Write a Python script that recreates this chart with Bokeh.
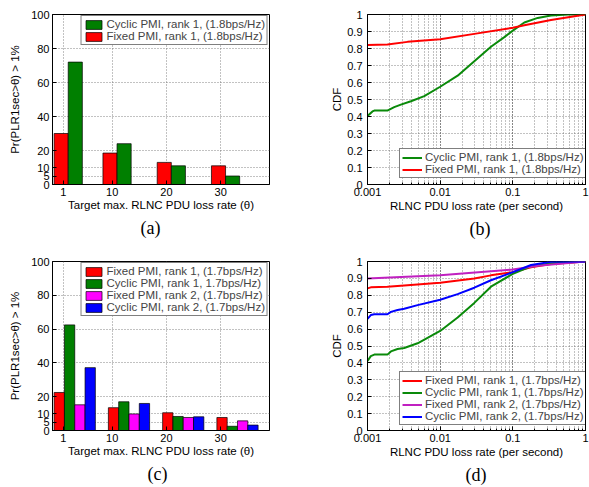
from bokeh.plotting import figure
from bokeh.layouts import column, row
from bokeh.models import (FixedTicker, CustomJSTickFormatter, Title, Range1d)
from bokeh.embed import file_html
from bokeh.resources import INLINE

# ---------------- data ----------------
theta_labels = ["1", "10", "20", "30"]
theta_ticks = [1, 10, 20, 30]
a_group_x = [1, 10, 20, 30]
c_group_x = [0, 10, 20, 30]
bar_yticks = [0, 5, 10, 20, 40, 60, 80, 100]

# (a)
a_cyclic_r1 = [72, 24, 11, 5]
a_fixed_r1 = [30, 18.5, 13, 11]

# (c)
c_fixed_r1 = [22.5, 13.5, 10.5, 7.7]
c_cyclic_r1 = [62.5, 17, 8.3, 2.5]
c_fixed_r2 = [15.2, 9.8, 7.7, 5.7]
c_cyclic_r2 = [37.2, 16, 8.1, 3.2]

cdf_ticks = [0, 0.1, 0.2, 0.3, 0.4, 0.5, 0.6, 0.7, 0.8, 0.9, 1.0]

# (b)
b_cyc_x = [0.001, 0.00117, 0.00124, 0.00188, 0.00233, 0.00288, 0.00396, 0.00604, 0.01,
           0.0174, 0.0295, 0.05, 0.0764, 0.1, 0.144, 0.22, 0.335, 0.57, 1.0]
b_cyc_y = [0.403, 0.43, 0.435, 0.435, 0.455, 0.47, 0.49, 0.52, 0.575,
           0.64, 0.725, 0.81, 0.867, 0.905, 0.953, 0.98, 0.994, 1.0, 1.0]
b_fix_x = [0.001, 0.00188, 0.00356, 0.01, 0.0295, 0.1, 0.144, 0.335, 1.0]
b_fix_y = [0.82, 0.824, 0.839, 0.854, 0.886, 0.922, 0.937, 0.968, 1.0]

# (d)
d_fix1_x = [0.001, 0.00111, 0.00188, 0.00356, 0.01, 0.0295, 0.05, 0.1, 0.178, 0.335, 1.0]
d_fix1_y = [0.841, 0.847, 0.851, 0.86, 0.874, 0.899, 0.918, 0.937, 0.966, 0.985, 1.0]
d_cyc1_x = [0.001, 0.00111, 0.00124, 0.00188, 0.0021, 0.00259, 0.0032, 0.00489, 0.01,
            0.0174, 0.0295, 0.05, 0.1, 0.178, 0.335, 1.0]
d_cyc1_y = [0.411, 0.44, 0.449, 0.449, 0.468, 0.482, 0.488, 0.516, 0.589,
            0.669, 0.755, 0.851, 0.927, 0.971, 0.99, 1.0]
d_fix2_x = [0.001, 0.01, 0.1, 0.22, 1.0]
d_fix2_y = [0.899, 0.918, 0.952, 0.975, 1.0]
d_cyc2_x = [0.001, 0.00111, 0.00124, 0.00188, 0.0021, 0.00259, 0.0032, 0.00489, 0.01,
            0.0174, 0.0295, 0.05, 0.1, 0.178, 0.335, 1.0]
d_cyc2_y = [0.66, 0.683, 0.688, 0.688, 0.702, 0.713, 0.72, 0.742, 0.774,
            0.807, 0.845, 0.889, 0.937, 0.979, 0.998, 1.0]

# ---------------- style ----------------
SANS = "Liberation Sans"
SERIF = "Liberation Serif"
RED = "#ff0000"
GREEN = "#007f00"
MAGENTA = "#ff00ff"
BLUE = "#0000ff"
LGREEN = "#0a8a0a"
LMAG = "#c020c0"
GRID = "#666666"


def base_style(p):
    p.outline_line_color = "black"
    p.outline_line_width = 1
    p.outline_line_alpha = 1
    p.background_fill_color = "white"
    p.border_fill_color = "white"
    for ax in p.axis:
        ax.major_tick_in = 4
        ax.major_tick_out = 0
        ax.minor_tick_in = 2
        ax.minor_tick_out = 0
        ax.major_label_text_font = SANS
        ax.major_label_text_font_size = "11px"
        ax.major_label_text_color = "black"
        ax.axis_label_text_font = SANS
        ax.axis_label_text_font_size = "11.5px"
        ax.axis_label_text_font_style = "normal"
        ax.axis_label_text_color = "black"
        ax.axis_line_color = "black"
        ax.major_tick_line_color = "black"
        ax.minor_tick_line_color = "black"
    for g in p.grid:
        g.grid_line_color = GRID
        g.grid_line_dash = "1 2"
        g.grid_line_width = 0.8


def style_legend(p, location):
    lg = p.legend[0]
    lg.location = location
    lg.margin = 1
    lg.padding = 2
    lg.spacing = 0
    lg.label_text_font = SANS
    lg.label_text_font_size = "11.5px"
    lg.label_height = 12
    lg.glyph_height = 11
    lg.glyph_width = 20
    lg.label_standoff = 3
    lg.border_line_color = "black"
    lg.border_line_width = 1
    lg.background_fill_color = "white"
    lg.background_fill_alpha = 1


def caption(p, text, offset):
    t = Title(text=text, align="left", offset=offset, standoff=4,
              text_font=SERIF, text_font_size="18px", text_font_style="normal",
              text_color="black")
    p.add_layout(t, "below")


def bar_panel(h, top, bottom):
    p = figure(width=295, height=h, title=None, toolbar_location=None,
               output_backend="svg", x_range=Range1d(-1, 39), y_range=Range1d(0, 100),
               min_border_left=52, min_border_right=26,
               min_border_top=top, min_border_bottom=bottom)
    p.xaxis.ticker = FixedTicker(ticks=theta_ticks, minor_ticks=[])
    p.xaxis.major_label_overrides = {t: l for t, l in zip(theta_ticks, theta_labels)}
    p.yaxis.ticker = FixedTicker(ticks=bar_yticks, minor_ticks=[])
    p.xaxis.axis_label = "Target max. RLNC PDU loss rate (θ)"
    p.yaxis.axis_label = "Pr(PLR1sec>θ) > 1%"
    base_style(p)
    p.xaxis.major_label_standoff = 3
    p.xaxis.axis_label_standoff = 0
    p.yaxis.major_label_standoff = 3
    p.yaxis.axis_label_standoff = 7
    return p


def cdf_panel(h, top, bottom):
    p = figure(width=294, height=h, title=None, toolbar_location=None,
               output_backend="svg", x_axis_type="log",
               x_range=Range1d(0.001, 1), y_range=Range1d(0, 1),
               min_border_left=72, min_border_right=4,
               min_border_top=top, min_border_bottom=bottom)
    p.xaxis.formatter = CustomJSTickFormatter(code="return tick.toString();")
    p.yaxis.ticker = FixedTicker(ticks=cdf_ticks, minor_ticks=[])
    p.yaxis.formatter = CustomJSTickFormatter(code="return String(Math.round(tick*10)/10);")
    p.xaxis.axis_label = "RLNC PDU loss rate (per second)"
    p.yaxis.axis_label = "CDF"
    base_style(p)
    p.xgrid.minor_grid_line_color = GRID
    p.xgrid.minor_grid_line_dash = "1 2"
    p.xgrid.minor_grid_line_width = 0.8
    p.xaxis.major_label_standoff = 3
    p.xaxis.axis_label_standoff = 1
    p.yaxis.major_label_standoff = 5
    p.yaxis.axis_label_standoff = 1
    return p


# ---------------- (a) ----------------
pa = bar_panel(243, 14, 58)
bw_a = 2.6
pa.vbar(x=[v - 0.4 for v in a_group_x], top=a_fixed_r1, width=bw_a, fill_color=RED,
        line_color="black", line_width=0.7, legend_label="Fixed PMI, rank 1, (1.8bps/Hz)")
pa.vbar(x=[v + 2.2 for v in a_group_x], top=a_cyclic_r1, width=bw_a, fill_color=GREEN,
        line_color="black", line_width=0.7, legend_label="Cyclic PMI, rank 1, (1.8bps/Hz)")
style_legend(pa, "top_right")
pa.legend[0].items = [pa.legend[0].items[1], pa.legend[0].items[0]]
caption(pa, "(a)", 88)

# ---------------- (c) ----------------
pc = bar_panel(244, 18, 56)
bw_c = 1.9
c_series = [(c_fixed_r1, RED, 0.25, "Fixed PMI, rank 1, (1.7bps/Hz)"),
            (c_cyclic_r1, GREEN, 2.15, "Cyclic PMI, rank 1, 1.7bps/Hz)"),
            (c_fixed_r2, MAGENTA, 4.05, "Fixed PMI, rank 2, (1.7bps/Hz)"),
            (c_cyclic_r2, BLUE, 5.95, "Cyclic PMI, rank 2, (1.7bps/Hz)")]
for vals, col, off, lab in c_series:
    pc.vbar(x=[v + off for v in c_group_x], top=vals, width=bw_c, fill_color=col,
            line_color="black", line_width=0.7, legend_label=lab)
style_legend(pc, "top_right")
caption(pc, "(c)", 95)

# ---------------- (b) ----------------
pb = cdf_panel(243, 8, 59)
pb.line(b_cyc_x, b_cyc_y, line_color=LGREEN, line_width=2,
        legend_label="Cyclic PMI, rank 1, (1.8bps/Hz)")
pb.line(b_fix_x, b_fix_y, line_color=RED, line_width=2,
        legend_label="Fixed PMI, rank 1, (1.8bps/Hz)")
style_legend(pb, (32, 6))
caption(pb, "(b)", 102)

# ---------------- (d) ----------------
pd_ = cdf_panel(244, 13, 57)
pd_.line(d_fix1_x, d_fix1_y, line_color=RED, line_width=2,
         legend_label="Fixed PMI, rank 1, (1.7bps/Hz)")
pd_.line(d_cyc1_x, d_cyc1_y, line_color=LGREEN, line_width=2,
         legend_label="Cyclic PMI, rank 1, (1.7bps/Hz)")
pd_.line(d_fix2_x, d_fix2_y, line_color=LMAG, line_width=2,
         legend_label="Fixed PMI, rank 2, (1.7bps/Hz)")
pd_.line(d_cyc2_x, d_cyc2_y, line_color=BLUE, line_width=2,
         legend_label="Cyclic PMI, rank 2, (1.7bps/Hz)")
style_legend(pd_, (32, 5))
caption(pd_, "(d)", 98)

layout = column(row(pa, pb), row(pc, pd_))
open("out.html", "w").write(file_html(layout, INLINE))
